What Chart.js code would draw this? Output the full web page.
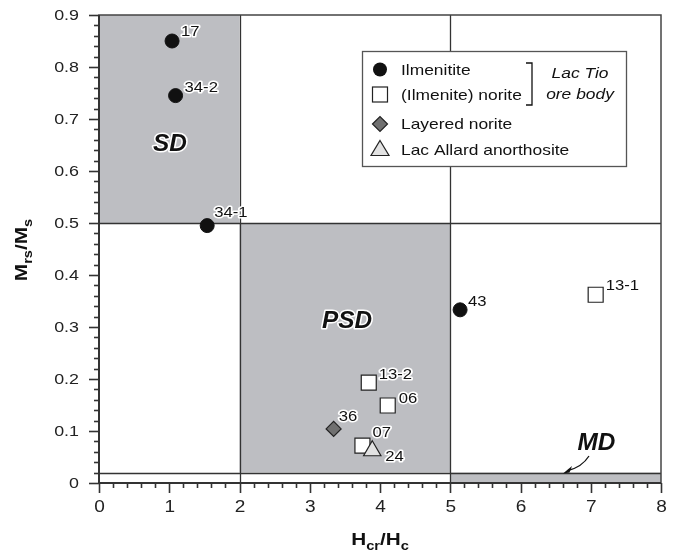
<!DOCTYPE html>
<html><head><meta charset="utf-8">
<script src="https://cdn.jsdelivr.net/npm/chart.js@4/dist/chart.umd.min.js"></script>
<style>html,body{margin:0;padding:0;background:#fff}</style>
</head><body>
<canvas id="c" width="680" height="557"></canvas>
<script>
// ---- data ----
const xTickValues = [0, 1, 2, 3, 4, 5, 6, 7, 8];
const yTickValues = [0, 0.1, 0.2, 0.3, 0.4, 0.5, 0.6, 0.7, 0.8, 0.9];
const xTickLabels = ['0', '1', '2', '3', '4', '5', '6', '7', '8'];
const yTickLabels = ['0', '0.1', '0.2', '0.3', '0.4', '0.5', '0.6', '0.7', '0.8', '0.9'];

const ilmeniteX = [1.04, 1.09, 1.54, 5.14];
const ilmeniteY = [0.850, 0.745, 0.495, 0.333];
const ilmeniteLabels = ['17', '34-2', '34-1', '43'];

const noriteX = [7.07, 3.84, 4.11, 3.75];
const noriteY = [0.362, 0.193, 0.149, 0.072];
const noriteLabels = ['13-1', '13-2', '06', '07'];

const layeredX = [3.34];
const layeredY = [0.104];
const layeredLabels = ['36'];

const allardX = [3.89];
const allardY = [0.062];
const allardLabels = ['24'];

const seriesNames = ['Ilmenitite', '(Ilmenite) norite', 'Layered norite', 'Lac Allard anorthosite'];

// domain fields (Day plot)
const domainNames = ['SD', 'PSD', 'MD'];
const domainX0 = [0, 2, 5];
const domainX1 = [2, 5, 8];
const domainY0 = [0.5, 0.02, 0];
const domainY1 = [0.9, 0.5, 0.02];
const boundaryX = [2, 5];
const boundaryY = [0.5, 0.02];

// ---- styles (label placement) ----
const labelOffsets = {
  '17': [9, -5], '34-2': [9, -4], '34-1': [7, -9], '43': [8, -4],
  '13-1': [10, -5], '13-2': [10, -4], '06': [11, -3], '07': [10, -9],
  '36': [5, -8], '24': [13, 10]
};
const domainLabelPos = { SD: [1.01, 0.65], PSD: [3.53, 0.31], MD: [7.08, 0.075] };

const GRAY = '#bdbec2';
const FONT = '"Liberation Sans", Arial, Helvetica, sans-serif';
const STRETCH = 1.19;

const toPts = (xs, ys) => xs.map((x, i) => ({ x: x, y: ys[i] }));

// draw text with horizontal stretch; align: 'left' | 'center' | 'right'
function sText(ctx, txt, x, y, opts) {
  const o = Object.assign({ align: 'left', base: 'alphabetic', sx: STRETCH, halo: false }, opts || {});
  ctx.save();
  ctx.translate(x, y);
  ctx.scale(o.sx, 1);
  ctx.textAlign = o.align;
  ctx.textBaseline = o.base;
  if (o.halo) {
    ctx.save();
    ctx.lineJoin = 'round';
    ctx.strokeStyle = '#fff';
    ctx.lineWidth = 3;
    ctx.strokeText(txt, 0, 0);
    ctx.restore();
  }
  ctx.fillText(txt, 0, 0);
  ctx.restore();
}

const backgroundPlugin = {
  id: 'dayplot',
  beforeDatasetsDraw(chart) {
    const { ctx, chartArea: a, scales: { x, y } } = chart;
    ctx.save();
    // shaded domains
    ctx.fillStyle = GRAY;
    for (let i = 0; i < domainNames.length; i++) {
      const px0 = x.getPixelForValue(domainX0[i]), px1 = x.getPixelForValue(domainX1[i]);
      const py0 = y.getPixelForValue(domainY0[i]), py1 = y.getPixelForValue(domainY1[i]);
      ctx.fillRect(px0, py1, px1 - px0, py0 - py1);
    }
    // boundary lines
    ctx.strokeStyle = '#333';
    ctx.lineWidth = 1.3;
    boundaryX.forEach(v => {
      const p = Math.round(x.getPixelForValue(v)) + 0.5;
      ctx.beginPath(); ctx.moveTo(p, a.top); ctx.lineTo(p, a.bottom); ctx.stroke();
    });
    boundaryY.forEach(v => {
      const p = Math.round(y.getPixelForValue(v)) + 0.5;
      ctx.beginPath(); ctx.moveTo(a.left, p); ctx.lineTo(a.right, p); ctx.stroke();
    });
    // frame
    ctx.lineWidth = 1.5;
    ctx.strokeStyle = '#444';
    ctx.strokeRect(a.left, a.top, a.right - a.left, a.bottom - a.top);
    ctx.lineWidth = 2;
    ctx.strokeStyle = '#333';
    ctx.beginPath();
    ctx.moveTo(a.left, a.top); ctx.lineTo(a.left, a.bottom); ctx.lineTo(a.right, a.bottom);
    ctx.stroke();
    // ticks
    ctx.lineWidth = 1.6;
    for (let k = 0; k <= 45; k++) {
      const p = Math.round(y.getPixelForValue(k * 0.02)) + 0.5;
      const len = (k % 5 === 0) ? 10 : 5;
      ctx.beginPath(); ctx.moveTo(a.left - len, p); ctx.lineTo(a.left, p); ctx.stroke();
    }
    for (let k = 0; k <= 40; k++) {
      const p = Math.round(x.getPixelForValue(k * 0.2)) + 0.5;
      const len = (k % 5 === 0) ? 10 : 5;
      ctx.beginPath(); ctx.moveTo(p, a.bottom); ctx.lineTo(p, a.bottom + len); ctx.stroke();
    }
    // tick labels
    ctx.fillStyle = '#222';
    ctx.font = '15px ' + FONT;
    yTickValues.forEach((v, i) => {
      sText(ctx, yTickLabels[i], a.left - 20, y.getPixelForValue(v) + 1, { align: 'right', base: 'middle' });
    });
    ctx.font = '16px ' + FONT;
    xTickValues.forEach((v, i) => {
      sText(ctx, xTickLabels[i], x.getPixelForValue(v) + 0.5, a.bottom + 25, { align: 'center', base: 'middle' });
    });
    // domain labels
    ctx.font = 'bold italic 23px ' + FONT;
    ctx.fillStyle = '#111';
    domainNames.forEach(n => {
      const [dx, dy] = domainLabelPos[n];
      sText(ctx, n, x.getPixelForValue(dx), y.getPixelForValue(dy), { align: 'center', base: 'middle', sx: 1.06, halo: true });
    });
    // MD arrow
    ctx.strokeStyle = '#111';
    ctx.fillStyle = '#111';
    ctx.lineWidth = 1.3;
    const sx = 589, sy = 456, ex = 563, ey = 473.5;
    ctx.beginPath(); ctx.moveTo(sx, sy); ctx.quadraticCurveTo(582, 467, ex + 5, ey - 3); ctx.stroke();
    ctx.beginPath();
    ctx.moveTo(ex, ey); ctx.lineTo(ex + 9, ey - 7.5); ctx.lineTo(ex + 6.5, ey - 1); ctx.closePath(); ctx.fill();
    ctx.beginPath();
    ctx.moveTo(ex, ey); ctx.lineTo(ex + 9, ey - 1.5); ctx.lineTo(ex + 6.5, ey - 1); ctx.closePath(); ctx.fill();
    ctx.restore();
  },
  afterDatasetsDraw(chart) {
    const { ctx } = chart;
    ctx.save();
    // point labels
    ctx.font = '14px ' + FONT;
    ctx.fillStyle = '#111';
    chart.data.datasets.forEach((ds, di) => {
      const meta = chart.getDatasetMeta(di);
      meta.data.forEach((el, i) => {
        const t = ds.pointLabels[i];
        const off = labelOffsets[t] || [8, -5];
        sText(ctx, t, el.x + off[0], el.y + off[1], { halo: true });
      });
    });
    // legend
    const L = 362, T = 51, R = 626, B = 166;
    ctx.fillStyle = '#fff';
    ctx.fillRect(L, T, R - L, B - T);
    ctx.strokeStyle = '#555';
    ctx.lineWidth = 1.3;
    ctx.strokeRect(L + 0.5, T + 0.5, R - L, B - T);
    const mx = 380, rows = [69.5, 94.5, 124, 149.5];
    ctx.strokeStyle = '#222';
    ctx.lineWidth = 1.2;
    ctx.fillStyle = '#111';
    ctx.beginPath(); ctx.arc(mx, rows[0], 7, 0, Math.PI * 2); ctx.fill();
    ctx.fillStyle = '#fff';
    ctx.fillRect(mx - 7.5, rows[1] - 7.5, 15, 15); ctx.strokeRect(mx - 7.5, rows[1] - 7.5, 15, 15);
    ctx.fillStyle = '#707070';
    ctx.beginPath(); ctx.moveTo(mx - 7.5, rows[2]); ctx.lineTo(mx, rows[2] - 7.5); ctx.lineTo(mx + 7.5, rows[2]); ctx.lineTo(mx, rows[2] + 7.5); ctx.closePath(); ctx.fill(); ctx.stroke();
    ctx.fillStyle = '#e2e2e2';
    ctx.beginPath(); ctx.moveTo(mx, rows[3] - 9); ctx.lineTo(mx + 9, rows[3] + 6); ctx.lineTo(mx - 9, rows[3] + 6); ctx.closePath(); ctx.fill(); ctx.stroke();
    ctx.fillStyle = '#111';
    ctx.font = '15px ' + FONT;
    seriesNames.forEach((n, i) => sText(ctx, n, 401, rows[i] + 1, { base: 'middle', sx: 1.16 }));
    ctx.lineWidth = 1.3;
    ctx.strokeStyle = '#111';
    ctx.beginPath(); ctx.moveTo(526, 63); ctx.lineTo(532, 63); ctx.lineTo(532, 105); ctx.lineTo(526, 105); ctx.stroke();
    ctx.font = 'italic 15px ' + FONT;
    sText(ctx, 'Lac Tio', 580, 74, { align: 'center', base: 'middle', sx: 1.16 });
    sText(ctx, 'ore body', 580, 95, { align: 'center', base: 'middle', sx: 1.16 });
    ctx.restore();
  },
  afterDraw(chart) {
    const { ctx, chartArea: a } = chart;
    ctx.save();
    ctx.fillStyle = '#111';
    ctx.textBaseline = 'alphabetic';
    ctx.textAlign = 'left';
    const big = 'bold 17px ' + FONT, small = 'bold 12px ' + FONT;
    const S = 1.22;
    function run(parts) {
      let w = 0;
      parts.forEach(p => { ctx.font = p[1] ? small : big; w += ctx.measureText(p[0]).width; });
      return w * S;
    }
    function drawRun(parts, x0, base) {
      let xx = x0;
      parts.forEach(p => {
        ctx.font = p[1] ? small : big;
        sText(ctx, p[0], xx, base + (p[1] ? 5 : 0), { sx: S });
        xx += ctx.measureText(p[0]).width * S;
      });
    }
    const xt = [['H', 0], ['cr', 1], ['/H', 0], ['c', 1]];
    drawRun(xt, (a.left + a.right) / 2 - run(xt) / 2, 545);
    const yt = [['M', 0], ['rs', 1], ['/M', 0], ['s', 1]];
    const yw = run(yt);
    ctx.translate(27, (a.top + a.bottom) / 2 + 1);
    ctx.rotate(-Math.PI / 2);
    drawRun(yt, -yw / 2, 0);
    ctx.restore();
  }
};

const chart = new Chart(document.getElementById('c'), {
  type: 'scatter',
  data: {
    datasets: [
      { label: seriesNames[0], data: toPts(ilmeniteX, ilmeniteY), pointLabels: ilmeniteLabels,
        pointStyle: 'circle', pointRadius: 7, backgroundColor: '#111', borderColor: '#111', borderWidth: 1, order: 1 },
      { label: seriesNames[1], data: toPts(noriteX, noriteY), pointLabels: noriteLabels,
        pointStyle: 'rect', pointRadius: 10.6, backgroundColor: '#fff', borderColor: '#222', borderWidth: 1.2, order: 3 },
      { label: seriesNames[2], data: toPts(layeredX, layeredY), pointLabels: layeredLabels,
        pointStyle: 'rectRot', pointRadius: 7.5, backgroundColor: '#707070', borderColor: '#222', borderWidth: 1.2, order: 2 },
      { label: seriesNames[3], data: toPts(allardX, allardY), pointLabels: allardLabels,
        pointStyle: 'triangle', pointRadius: 10, backgroundColor: '#e2e2e2', borderColor: '#222', borderWidth: 1.2, order: 0 }
    ]
  },
  options: {
    responsive: false,
    animation: false,
    events: [],
    devicePixelRatio: 1,
    layout: { padding: { left: 0, right: 19, top: 15, bottom: 0 } },
    plugins: { legend: { display: false }, tooltip: { enabled: false }, title: { display: false } },
    scales: {
      x: {
        type: 'linear', min: 0, max: 8,
        afterBuildTicks: s => { s.ticks = xTickValues.map(v => ({ value: v })); },
        afterFit: s => { s.height = 74; },
        grid: { display: false, drawTicks: false },
        border: { display: false },
        ticks: { display: false }
      },
      y: {
        type: 'linear', min: 0, max: 0.9,
        afterBuildTicks: s => { s.ticks = yTickValues.map(v => ({ value: v })); },
        afterFit: s => { s.width = 99; },
        grid: { display: false, drawTicks: false },
        border: { display: false },
        ticks: { display: false }
      }
    }
  },
  plugins: [backgroundPlugin]
});
</script>
</body></html>
